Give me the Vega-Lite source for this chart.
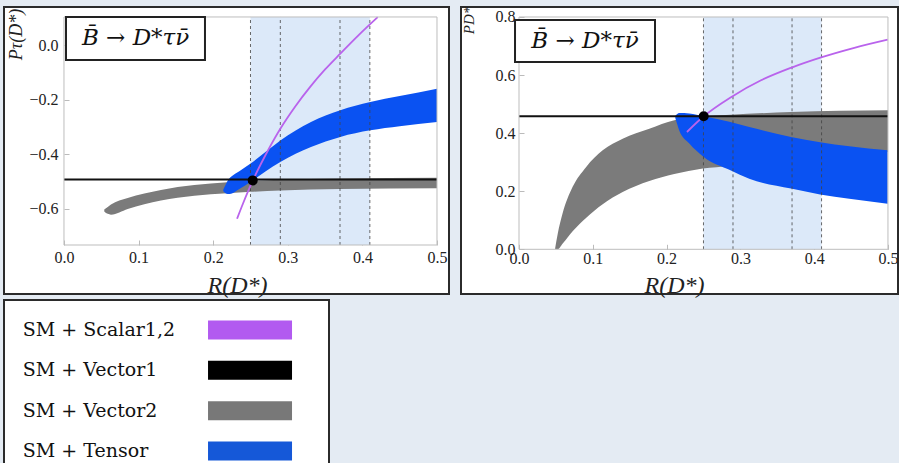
{
"$schema":"https://vega.github.io/schema/vega-lite/v6.json",
"background":"#e4ebf3",
"padding":{"left":3,"top":5,"right":0,"bottom":0},
"datasets":{
"exp":[{"x1":0.25,"x2":0.41}],
"dash":[{"x":0.25},{"x":0.29},{"x":0.37},{"x":0.41}],
"bands":[
{"p":"L","s":"Vector2","x":0.054,"lo":-0.610,"hi":-0.603},
{"p":"L","s":"Vector2","x":0.0586,"lo":-0.619,"hi":-0.594},
{"p":"L","s":"Vector2","x":0.063,"lo":-0.622,"hi":-0.585},
{"p":"L","s":"Vector2","x":0.0854,"lo":-0.601,"hi":-0.561},
{"p":"L","s":"Vector2","x":0.13,"lo":-0.570,"hi":-0.531},
{"p":"L","s":"Vector2","x":0.1747,"lo":-0.552,"hi":-0.513},
{"p":"L","s":"Vector2","x":0.219,"lo":-0.543,"hi":-0.503},
{"p":"L","s":"Vector2","x":0.25,"lo":-0.538,"hi":-0.498},
{"p":"L","s":"Vector2","x":0.29,"lo":-0.533,"hi":-0.494},
{"p":"L","s":"Vector2","x":0.37,"lo":-0.528,"hi":-0.489},
{"p":"L","s":"Vector2","x":0.5,"lo":-0.525,"hi":-0.486},
{"p":"L","s":"Tensor","x":0.2135,"lo":-0.536,"hi":-0.530},
{"p":"L","s":"Tensor","x":0.2165,"lo":-0.543,"hi":-0.513},
{"p":"L","s":"Tensor","x":0.2194,"lo":-0.546,"hi":-0.497},
{"p":"L","s":"Tensor","x":0.2239,"lo":-0.545,"hi":-0.483},
{"p":"L","s":"Tensor","x":0.235,"lo":-0.528,"hi":-0.462},
{"p":"L","s":"Tensor","x":0.2497,"lo":-0.502,"hi":-0.435},
{"p":"L","s":"Tensor","x":0.27,"lo":-0.463,"hi":-0.392},
{"p":"L","s":"Tensor","x":0.29,"lo":-0.428,"hi":-0.349},
{"p":"L","s":"Tensor","x":0.3311,"lo":-0.373,"hi":-0.281},
{"p":"L","s":"Tensor","x":0.3704,"lo":-0.336,"hi":-0.238},
{"p":"L","s":"Tensor","x":0.4106,"lo":-0.312,"hi":-0.208},
{"p":"L","s":"Tensor","x":0.45,"lo":-0.297,"hi":-0.186},
{"p":"L","s":"Tensor","x":0.5,"lo":-0.281,"hi":-0.159},
{"p":"R","s":"Vector2","x":0.049,"lo":0.0,"hi":0.004},
{"p":"R","s":"Vector2","x":0.0525,"lo":0.0,"hi":0.054},
{"p":"R","s":"Vector2","x":0.059,"lo":0.019,"hi":0.123},
{"p":"R","s":"Vector2","x":0.0727,"lo":0.062,"hi":0.215},
{"p":"R","s":"Vector2","x":0.0908,"lo":0.108,"hi":0.283},
{"p":"R","s":"Vector2","x":0.1134,"lo":0.155,"hi":0.341},
{"p":"R","s":"Vector2","x":0.1405,"lo":0.197,"hi":0.381},
{"p":"R","s":"Vector2","x":0.1766,"lo":0.235,"hi":0.415},
{"p":"R","s":"Vector2","x":0.2104,"lo":0.259,"hi":0.444},
{"p":"R","s":"Vector2","x":0.249,"lo":0.278,"hi":0.457},
{"p":"R","s":"Vector2","x":0.2865,"lo":0.287,"hi":0.463},
{"p":"R","s":"Vector2","x":0.3686,"lo":0.305,"hi":0.473},
{"p":"R","s":"Vector2","x":0.5,"lo":0.335,"hi":0.479},
{"p":"R","s":"Tensor","x":0.2118,"lo":0.452,"hi":0.460},
{"p":"R","s":"Tensor","x":0.2145,"lo":0.430,"hi":0.466},
{"p":"R","s":"Tensor","x":0.217,"lo":0.410,"hi":0.469},
{"p":"R","s":"Tensor","x":0.2308,"lo":0.364,"hi":0.468},
{"p":"R","s":"Tensor","x":0.2503,"lo":0.318,"hi":0.458},
{"p":"R","s":"Tensor","x":0.2865,"lo":0.272,"hi":0.438},
{"p":"R","s":"Tensor","x":0.312,"lo":0.243,"hi":0.421},
{"p":"R","s":"Tensor","x":0.3686,"lo":0.209,"hi":0.387},
{"p":"R","s":"Tensor","x":0.408,"lo":0.189,"hi":0.369},
{"p":"R","s":"Tensor","x":0.4476,"lo":0.174,"hi":0.355},
{"p":"R","s":"Tensor","x":0.4996,"lo":0.157,"hi":0.341}
],
"v1":[{"p":"L","x":0,"y":-0.493},{"p":"L","x":0.5,"y":-0.493},{"p":"R","x":0,"y":0.458},{"p":"R","x":0.5,"y":0.458}],
"scalar":[
{"p":"L","x":0.232,"y":-0.637},{"p":"L","x":0.24,"y":-0.581},{"p":"L","x":0.253,"y":-0.497},{"p":"L","x":0.27,"y":-0.4035},{"p":"L","x":0.29,"y":-0.306},{"p":"L","x":0.31,"y":-0.224},{"p":"L","x":0.33,"y":-0.152},{"p":"L","x":0.35,"y":-0.088},{"p":"L","x":0.3704,"y":-0.030},{"p":"L","x":0.395,"y":0.038},{"p":"L","x":0.4205,"y":0.104},
{"p":"R","x":0.2276,"y":0.404},{"p":"R","x":0.2503,"y":0.458},{"p":"R","x":0.2873,"y":0.524},{"p":"R","x":0.328,"y":0.582},{"p":"R","x":0.3686,"y":0.625},{"p":"R","x":0.4083,"y":0.66},{"p":"R","x":0.4544,"y":0.694},{"p":"R","x":0.4996,"y":0.722}
],
"dot":[{"p":"L","x":0.253,"y":-0.496},{"p":"R","x":0.2503,"y":0.458}],
"legend":[{"label":"SM + Scalar1,2"},{"label":"SM + Vector1"},{"label":"SM + Vector2"},{"label":"SM + Tensor"}]
},
"columns":2,
"spacing":{"row":6,"column":12},
"bounds":"flush",
"concat":[
{"width":445,"height":287,
"layer":[
{"data":{"name":"exp"},"mark":{"type":"rect","color":"#dce9f9"},
"encoding":{"x":{"field":"x1","type":"quantitative","scale":{"domain":[-0.0804,0.5161],"nice":false,"zero":false},
"axis":{"values":[0,0.1,0.2,0.3,0.4,0.5],"format":".1f","offset":-49,"labelPadding":9,"title":"R(D*)","titleFontStyle":"italic","titleX":233,"titleY":40,"titleBaseline":"middle","titleAlign":"center","titleFontSize":24}},
"x2":{"field":"x2"},
"y":{"datum":-0.7335,"type":"quantitative","scale":{"domain":[-0.9136,0.1415],"nice":false,"zero":false},
"axis":{"values":[-0.6,-0.4,-0.2,0],"format":".1f","offset":-60,"title":"Pτ(D*)","titleFontStyle":"italic","titleX":-48,"titleY":27,"titleAngle":-90,"titleBaseline":"middle","titleAlign":"center","titleFontSize":18}},
"y2":{"datum":0.1048}}},
{"data":{"name":"bands"},"transform":[{"filter":"datum.p==='L' && datum.s==='Vector2'"}],"mark":{"type":"area","color":"#7b7b7b","interpolate":"monotone","opacity":1},
"encoding":{"x":{"field":"x","type":"quantitative","scale":{"domain":[-0.0804,0.5161],"nice":false,"zero":false}},"y":{"field":"lo","type":"quantitative","scale":{"domain":[-0.9136,0.1415],"nice":false,"zero":false}},"y2":{"field":"hi"}}},
{"data":{"name":"bands"},"transform":[{"filter":"datum.p==='L' && datum.s==='Tensor'"}],"mark":{"type":"area","color":"#0a52f2","interpolate":"monotone","opacity":1},
"encoding":{"x":{"field":"x","type":"quantitative","scale":{"domain":[-0.0804,0.5161],"nice":false,"zero":false}},"y":{"field":"lo","type":"quantitative","scale":{"domain":[-0.9136,0.1415],"nice":false,"zero":false}},"y2":{"field":"hi"}}},
{"data":{"name":"dash"},"mark":{"type":"rule","color":"#444","strokeDash":[3,3],"strokeWidth":1,"opacity":0.8},
"encoding":{"x":{"field":"x","type":"quantitative","scale":{"domain":[-0.0804,0.5161],"nice":false,"zero":false}},"y":{"datum":-0.7335,"type":"quantitative","scale":{"domain":[-0.9136,0.1415],"nice":false,"zero":false}},"y2":{"datum":0.1048}}},
{"data":{"name":"v1"},"transform":[{"filter":"datum.p==='L'"}],"mark":{"type":"line","color":"#111","strokeWidth":2},
"encoding":{"x":{"field":"x","type":"quantitative","scale":{"domain":[-0.0804,0.5161],"nice":false,"zero":false}},"y":{"field":"y","type":"quantitative","scale":{"domain":[-0.9136,0.1415],"nice":false,"zero":false}}}},
{"data":{"name":"scalar"},"transform":[{"filter":"datum.p==='L'"}],"mark":{"type":"line","color":"#b963ec","strokeWidth":1.8,"interpolate":"monotone"},
"encoding":{"x":{"field":"x","type":"quantitative","scale":{"domain":[-0.0804,0.5161],"nice":false,"zero":false}},"y":{"field":"y","type":"quantitative","scale":{"domain":[-0.9136,0.1415],"nice":false,"zero":false}}}},
{"data":{"name":"dot"},"transform":[{"filter":"datum.p==='L'"}],"mark":{"type":"point","filled":true,"size":100,"color":"#000","opacity":1},
"encoding":{"x":{"field":"x","type":"quantitative","scale":{"domain":[-0.0804,0.5161],"nice":false,"zero":false}},"y":{"field":"y","type":"quantitative","scale":{"domain":[-0.9136,0.1415],"nice":false,"zero":false}}}},
{"data":{"values":[{}]},"mark":{"type":"rect","fillOpacity":0,"stroke":"#bdbdbd","strokeWidth":1},
"encoding":{"x":{"datum":0,"type":"quantitative","scale":{"domain":[-0.0804,0.5161],"nice":false,"zero":false}},"x2":{"datum":0.5},"y":{"datum":-0.7335,"type":"quantitative","scale":{"domain":[-0.9136,0.1415],"nice":false,"zero":false}},"y2":{"datum":0.1048}}},
{"data":{"values":[{}]},"mark":{"type":"rect","fill":"white","stroke":"#222","strokeWidth":2},
"encoding":{"x":{"datum":0.0027,"type":"quantitative","scale":{"domain":[-0.0804,0.5161],"nice":false,"zero":false}},"x2":{"datum":0.189},"y":{"datum":-0.0533,"type":"quantitative","scale":{"domain":[-0.9136,0.1415],"nice":false,"zero":false}},"y2":{"datum":0.1048}}},
{"data":{"values":[{}]},"mark":{"type":"text","text":"B\u0304 → D*τν\u0304","font":"DejaVu Serif","fontStyle":"italic","fontSize":23,"align":"center","baseline":"middle","color":"#111"},
"encoding":{"x":{"datum":0.096,"type":"quantitative","scale":{"domain":[-0.0804,0.5161],"nice":false,"zero":false}},"y":{"datum":0.0258,"type":"quantitative","scale":{"domain":[-0.9136,0.1415],"nice":false,"zero":false}}}}
]},
{"width":437,"height":287,
"layer":[
{"data":{"name":"exp"},"mark":{"type":"rect","color":"#dce9f9"},
"encoding":{"x":{"field":"x1","type":"quantitative","scale":{"domain":[-0.0786,0.5136],"nice":false,"zero":false},
"axis":{"values":[0,0.1,0.2,0.3,0.4,0.5],"format":".1f","offset":-44.7,"labelPadding":6,"title":"R(D*)","titleFontStyle":"italic","titleX":213,"titleY":36,"titleBaseline":"middle","titleAlign":"center","titleFontSize":24}},
"x2":{"field":"x2"},
"y":{"datum":0,"type":"quantitative","scale":{"domain":[-0.1539,0.8344],"nice":false,"zero":false},
"axis":{"values":[0,0.2,0.4,0.6,0.8],"format":".1f","offset":-58,"labelPadding":9,"title":"PD*","titleFontStyle":"italic","titleX":-51,"titleY":13,"titleAngle":-90,"titleBaseline":"middle","titleAlign":"center","titleFontSize":15}},
"y2":{"datum":0.8}}},
{"data":{"name":"bands"},"transform":[{"filter":"datum.p==='R' && datum.s==='Vector2'"}],"mark":{"type":"area","color":"#7b7b7b","interpolate":"monotone","opacity":1,"clip":true},
"encoding":{"x":{"field":"x","type":"quantitative","scale":{"domain":[-0.0786,0.5136],"nice":false,"zero":false}},"y":{"field":"lo","type":"quantitative","scale":{"domain":[-0.1539,0.8344],"nice":false,"zero":false}},"y2":{"field":"hi"}}},
{"data":{"name":"bands"},"transform":[{"filter":"datum.p==='R' && datum.s==='Tensor'"}],"mark":{"type":"area","color":"#0a52f2","interpolate":"monotone","opacity":1},
"encoding":{"x":{"field":"x","type":"quantitative","scale":{"domain":[-0.0786,0.5136],"nice":false,"zero":false}},"y":{"field":"lo","type":"quantitative","scale":{"domain":[-0.1539,0.8344],"nice":false,"zero":false}},"y2":{"field":"hi"}}},
{"data":{"name":"dash"},"mark":{"type":"rule","color":"#444","strokeDash":[3,3],"strokeWidth":1,"opacity":0.8},
"encoding":{"x":{"field":"x","type":"quantitative","scale":{"domain":[-0.0786,0.5136],"nice":false,"zero":false}},"y":{"datum":0,"type":"quantitative","scale":{"domain":[-0.1539,0.8344],"nice":false,"zero":false}},"y2":{"datum":0.8}}},
{"data":{"name":"v1"},"transform":[{"filter":"datum.p==='R'"}],"mark":{"type":"line","color":"#111","strokeWidth":2},
"encoding":{"x":{"field":"x","type":"quantitative","scale":{"domain":[-0.0786,0.5136],"nice":false,"zero":false}},"y":{"field":"y","type":"quantitative","scale":{"domain":[-0.1539,0.8344],"nice":false,"zero":false}}}},
{"data":{"name":"scalar"},"transform":[{"filter":"datum.p==='R'"}],"mark":{"type":"line","color":"#b963ec","strokeWidth":1.8,"interpolate":"monotone"},
"encoding":{"x":{"field":"x","type":"quantitative","scale":{"domain":[-0.0786,0.5136],"nice":false,"zero":false}},"y":{"field":"y","type":"quantitative","scale":{"domain":[-0.1539,0.8344],"nice":false,"zero":false}}}},
{"data":{"name":"dot"},"transform":[{"filter":"datum.p==='R'"}],"mark":{"type":"point","filled":true,"size":100,"color":"#000","opacity":1},
"encoding":{"x":{"field":"x","type":"quantitative","scale":{"domain":[-0.0786,0.5136],"nice":false,"zero":false}},"y":{"field":"y","type":"quantitative","scale":{"domain":[-0.1539,0.8344],"nice":false,"zero":false}}}},
{"data":{"values":[{}]},"mark":{"type":"rect","fillOpacity":0,"stroke":"#bdbdbd","strokeWidth":1},
"encoding":{"x":{"datum":0,"type":"quantitative","scale":{"domain":[-0.0786,0.5136],"nice":false,"zero":false}},"x2":{"datum":0.5},"y":{"datum":0,"type":"quantitative","scale":{"domain":[-0.1539,0.8344],"nice":false,"zero":false}},"y2":{"datum":0.8}}},
{"data":{"values":[{}]},"mark":{"type":"rect","fill":"white","stroke":"#222","strokeWidth":2},
"encoding":{"x":{"datum":-0.0054,"type":"quantitative","scale":{"domain":[-0.0786,0.5136],"nice":false,"zero":false}},"x2":{"datum":0.1843},"y":{"datum":0.645,"type":"quantitative","scale":{"domain":[-0.1539,0.8344],"nice":false,"zero":false}},"y2":{"datum":0.7896}}},
{"data":{"values":[{}]},"mark":{"type":"text","text":"B\u0304 → D*τν\u0304","font":"DejaVu Serif","fontStyle":"italic","fontSize":23,"align":"center","baseline":"middle","color":"#111"},
"encoding":{"x":{"datum":0.0895,"type":"quantitative","scale":{"domain":[-0.0786,0.5136],"nice":false,"zero":false}},"y":{"datum":0.717,"type":"quantitative","scale":{"domain":[-0.1539,0.8344],"nice":false,"zero":false}}}}
]},
{"width":325,"height":181,"data":{"name":"legend"},
"layer":[
{"mark":{"type":"text","align":"left","baseline":"middle","font":"DejaVu Serif","fontSize":19,"color":"#111"},
"encoding":{"x":{"datum":0.058,"type":"quantitative","scale":{"domain":[0,1],"nice":false,"zero":false},"axis":null},
"y":{"field":"label","type":"nominal","sort":null,"scale":{"type":"point","padding":0.74},"axis":null},"text":{"field":"label"}}},
{"mark":{"type":"tick","orient":"horizontal","size":84,"thickness":19,"opacity":1},
"encoding":{"x":{"datum":0.757,"type":"quantitative","scale":{"domain":[0,1],"nice":false,"zero":false},"axis":null},
"y":{"field":"label","type":"nominal","sort":null,"scale":{"type":"point","padding":0.74},"axis":null},
"color":{"field":"label","type":"nominal","scale":{"domain":["SM + Scalar1,2","SM + Vector1","SM + Vector2","SM + Tensor"],"range":["#b25af0","#000000","#787878","#1558d8"]},"legend":null}}}
]}
],
"config":{
"view":{"fill":"white","stroke":"#2b2b2b","strokeWidth":2},
"axis":{"domain":false,"grid":false,"ticks":true,"tickSize":-5,"tickColor":"#bbbbbb","labelPadding":11,"labelFont":"Liberation Serif","labelFontSize":16,"labelColor":"#222","labelFlush":false,"labelOverlap":false,"titleFont":"Liberation Serif","titleFontWeight":"normal","titleColor":"#222"}
}
}
